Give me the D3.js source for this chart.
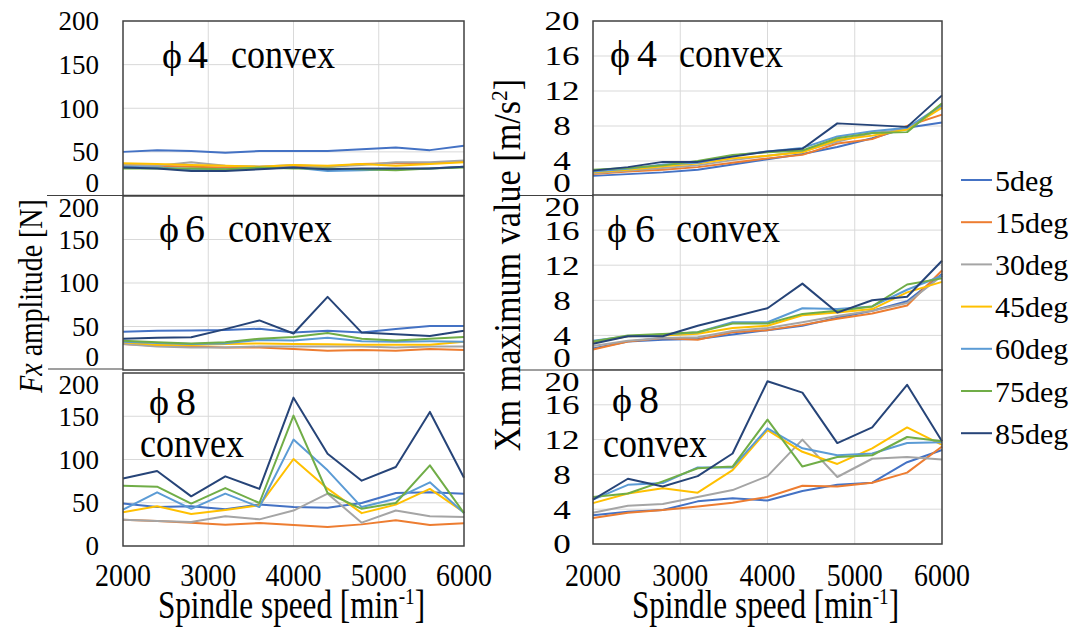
<!DOCTYPE html>
<html><head><meta charset="utf-8">
<script src="https://cdn.jsdelivr.net/npm/d3@7"></script>
<style>body{margin:0;background:#fff} svg{display:block}</style>
</head><body>
<svg id="c" width="1076" height="628"></svg>
<script>
// ---------- data ----------
const speeds = [2000,2400,2800,3200,3600,4000,4400,4800,5200,5600,6000];
const seriesNames = ["5deg","15deg","30deg","45deg","60deg","75deg","85deg"];
const seriesColors = ["#4472C4","#ED7D31","#A5A5A5","#FFC000","#5B9BD5","#70AD47","#264478"];
const xTicks = [2000,3000,4000,5000,6000];
const fxTicks = [0,50,100,150,200];
const xmTicks = [0,4,8,12,16,20];
const diameters = ["4","6","8"];

// Fx amplitude [N]
const fxPhi4 = [
  [50,52,51,49,51,51,51,53,55,52,57],
  [35,34,33,32,33,34,33,36,37,37,39],
  [35,34,38,34,33,35,33,35,38,38,40],
  [37,36,35,34,33,35,34,36,34,36,38],
  [33,32,30,30,31,32,28,29,30,31,33],
  [31,31,31,30,32,31,31,30,29,31,32],
  [32,31,28,28,30,32,30,31,31,31,33]
];
const fxPhi6 = [
  [44,45,45.5,46,47.5,43,45,43,47,50.6,50.6],
  [30,28,27,26,26,24,22,23,22,24,23],
  [30,27,26,26,27,27,27,27,26,27,27],
  [32,29,28.7,30,30.6,30,29.5,29,29,29,32.6],
  [32.6,31,29.9,30.6,34.5,34,37,33,32.6,33,32.6],
  [33.7,32,30.6,31.8,36,38,42.5,36,34,36,38],
  [36,37,37.6,47,57,42,84,43,41,39,45]
];
const fxPhi8 = [
  [49,45,46,42.4,48,45,44.3,49.7,61.3,62,60.5],
  [30.4,29,27,24.7,26.6,24.3,22,25,29.7,24.3,26.2],
  [30.4,29,27.7,34.3,30.8,41,60.5,27,41,34.3,33.5],
  [39,46,37,41.6,47,100.6,66.3,38,47.8,66,39],
  [42,62,43,60.5,45,123,87.5,45,54.7,73.6,38],
  [69.7,68.6,49,67,49.7,150.7,61.3,43,49.7,93.3,38],
  [78,86.7,57.4,80.5,66,171.5,106.7,75.5,91.3,155,79]
];
// Xm maximum value [m/s2]
const xmPhi4 = [
  [2.3,2.5,2.7,3.0,3.6,4.2,4.8,5.6,6.6,7.8,8.4],
  [2.5,2.8,3.0,3.3,3.8,4.3,4.7,6.0,6.5,8.0,9.3],
  [2.6,2.9,3.2,3.5,4.1,4.6,5.1,6.2,7.2,7.6,10.3],
  [2.7,3.0,3.4,3.7,4.3,4.6,5.0,6.4,6.9,7.6,10.1],
  [2.8,3.1,3.6,3.8,4.6,5.1,5.5,6.8,7.4,7.8,10.4],
  [3.0,3.2,3.5,4.0,4.7,5.0,5.2,6.6,7.2,7.3,10.6],
  [2.9,3.3,3.9,3.9,4.5,5.1,5.4,8.3,8.1,7.9,11.5]
];
const xmPhi6 = [
  [2.5,3.3,3.5,3.6,4.1,4.6,5.1,6.0,6.8,7.9,11.0],
  [2.4,3.3,3.7,3.5,4.35,4.6,5.2,5.9,6.5,7.4,11.4],
  [2.8,3.4,3.7,3.8,4.5,4.85,5.5,6.2,6.8,7.7,10.8],
  [3.2,3.9,4.0,4.2,4.85,5.1,6.3,6.6,7.0,8.9,10.1],
  [3.4,3.9,4.1,4.35,5.5,5.5,7.1,7.0,7.3,9.2,10.8],
  [3.3,4.0,4.15,4.35,5.35,5.35,6.45,6.8,7.3,9.8,10.5],
  [3.05,3.9,3.9,5.1,6.1,7.1,9.9,6.6,8.0,8.4,12.5]
];
const xmPhi8 = [
  [3.3,3.7,3.9,4.9,5.25,5.0,6.1,6.8,7.05,9.4,10.8],
  [3.0,3.6,3.9,4.3,4.75,5.4,6.7,6.6,7.05,8.2,11.2],
  [3.6,4.4,4.6,5.4,6.2,7.8,12.0,7.7,9.8,10.0,9.7],
  [4.7,5.8,6.4,5.9,8.5,13.1,10.6,9.2,11.0,13.4,11.4],
  [5.1,6.8,7.0,8.8,8.8,13.3,11.0,10.2,10.4,11.6,11.7],
  [5.4,5.8,7.2,8.7,8.9,14.3,8.9,10.0,10.2,12.3,11.8],
  [5.1,7.5,6.6,7.8,10.4,18.7,17.4,11.6,13.4,18.3,11.8]
];

// ---------- layout ----------
const FONT = "'Liberation Serif','Times New Roman',serif";
const svg = d3.select("#c");
const cols = [
  {x0:123, x1:464, yMax:200, ticks:fxTicks, labX:99, anchor:"end", sx:1,
   rows:[[21,195.5],[196,370],[373,546]], sets:[fxPhi4,fxPhi6,fxPhi8],
   lab:[{p:162,n:188,c:231,b:68,cb:68},{p:159,n:185,c:228,b:242,cb:242},{p:149,n:176,c:140,b:415,cb:457}]},
  {x0:593, x1:942, yMax:20, ticks:xmTicks, labX:562, anchor:"middle", sx:1.3,
   rows:[[21,196],[195,370.5],[370,544]], sets:[xmPhi4,xmPhi6,xmPhi8],
   lab:[{p:610,n:637,c:679,b:67,cb:67},{p:607,n:635,c:676,b:242,cb:242},{p:612,n:639,c:603,b:413,cb:457}]}
];

// stubs from overlapping chart areas
[[47,130,195.5],[48,130,369],[517,600,195.5],[517,600,370]].forEach(s=>{
  svg.append("line").attr("x1",s[0]).attr("x2",s[1]).attr("y1",s[2]).attr("y2",s[2])
    .attr("stroke","#404040").attr("stroke-width",1.2);
});

cols.forEach((col,ci)=>{
  const x = d3.scaleLinear().domain([2000,6000]).range([col.x0,col.x1]);
  col.rows.forEach((r,ri)=>{
    const y = d3.scaleLinear().domain([0,col.yMax]).range([r[1],r[0]]);
    const g = svg.append("g");
    g.append("rect").attr("x",col.x0).attr("y",r[0]).attr("width",col.x1-col.x0).attr("height",r[1]-r[0])
      .attr("fill","#fff");
    // grid
    g.selectAll(".hg").data(col.ticks.filter(t=>t>0&&t<col.yMax)).enter().append("line")
      .attr("x1",col.x0).attr("x2",col.x1).attr("y1",d=>y(d)).attr("y2",d=>y(d))
      .attr("stroke","#d9d9d9").attr("stroke-width",1);
    g.selectAll(".vg").data(xTicks.filter(t=>t>2000&&t<6000)).enter().append("line")
      .attr("y1",r[0]).attr("y2",r[1]).attr("x1",d=>x(d)).attr("x2",d=>x(d))
      .attr("stroke","#d9d9d9").attr("stroke-width",1);
    // lines
    const data = col.sets[ri];
    const line = d3.line().x((d,i)=>x(speeds[i])).y(d=>y(d));
    data.forEach((vals,si)=>{
      g.append("path").attr("d",line(vals)).attr("fill","none")
        .attr("stroke",seriesColors[si]).attr("stroke-width",2).attr("stroke-linejoin","round");
    });
    g.append("rect").attr("x",col.x0).attr("y",r[0]).attr("width",col.x1-col.x0).attr("height",r[1]-r[0])
      .attr("fill","none").attr("stroke","#404040").attr("stroke-width",1.5);
    // y axis labels (clamped within chart area)
    const ax = svg.append("g").attr("transform",`translate(${col.labX},0)`)
      .call(d3.axisLeft(y).tickValues(col.ticks).tickSize(0).tickFormat(d3.format("d")));
    ax.select(".domain").remove();
    const lo = ri===0 ? -1e9 : r[0]+12;
    const hi = ri===2 ? 1e9 : r[1]-13;
    ax.selectAll(".tick").attr("transform",d=>`translate(0,${Math.max(lo,Math.min(hi,y(d)))})`);
    ax.selectAll("text").attr("x",0).attr("dy","0.35em").attr("text-anchor",col.anchor)
      .attr("transform",`scale(${col.sx},1)`)
      .style("font-family",FONT).style("font-size","27px").attr("fill","#000");
    // panel label
    const L = col.lab[ri];
    const t = svg.append("g").style("font-family",FONT).attr("fill","#000");
    t.append("text").attr("x",L.p).attr("y",L.b).text("\u03D5").style("font-size","38px");
    t.append("text").attr("x",L.n).attr("y",L.b).text(diameters[ri]).style("font-size","40px");
    t.append("text").attr("transform",`translate(${L.c},${L.cb}) scale(0.9,1)`).text("convex").style("font-size","40px");
  });
  // x axis
  const xa = svg.append("g").attr("transform","translate(0,586)")
    .call(d3.axisBottom(x).tickValues(xTicks).tickSize(0).tickFormat(d3.format("d")));
  xa.select(".domain").remove();
  xa.selectAll("text").attr("y",0).attr("dy",0).attr("transform","scale(0.9,1)")
    .style("font-family",FONT).style("font-size","31px").attr("fill","#000");
  xa.selectAll(".tick").each(function(d){
    d3.select(this).attr("transform",`translate(${x(d)},0)`);
  });
  // x title
  const xt = svg.append("text").attr("transform",`translate(${(col.x0+col.x1)/2-2},618) scale(0.8,1)`)
    .attr("text-anchor","middle").style("font-family",FONT).style("font-size","39px");
  xt.append("tspan").text("Spindle speed [min");
  xt.append("tspan").text("-1").attr("dy","-14").style("font-size","24px");
  xt.append("tspan").text("]").attr("dy","14");
});

// y titles
const yt1 = svg.append("text").attr("transform","translate(42,296) rotate(-90) scale(0.82,1)")
  .attr("text-anchor","middle").style("font-family",FONT).style("font-size","34px");
yt1.append("tspan").text("Fx").style("font-style","italic");
yt1.append("tspan").text(" amplitude [N]");
const yt2 = svg.append("text").attr("transform","translate(520,265) rotate(-90) scale(0.9,1)")
  .attr("text-anchor","middle").style("font-family",FONT).style("font-size","38px");
yt2.append("tspan").text("Xm maximum value [m/s");
yt2.append("tspan").text("2").attr("dy","-13").style("font-size","24px");
yt2.append("tspan").text("]").attr("dy","13");

// legend
const lg = svg.append("g");
seriesNames.forEach((n,i)=>{
  const yy = 180 + i*42.2;
  lg.append("line").attr("x1",961).attr("x2",992).attr("y1",yy).attr("y2",yy)
    .attr("stroke",seriesColors[i]).attr("stroke-width",2);
  lg.append("text").attr("x",995).attr("y",yy).attr("dy","0.35em").text(n)
    .style("font-family",FONT).style("font-size","30px");
});
</script>
</body></html>
